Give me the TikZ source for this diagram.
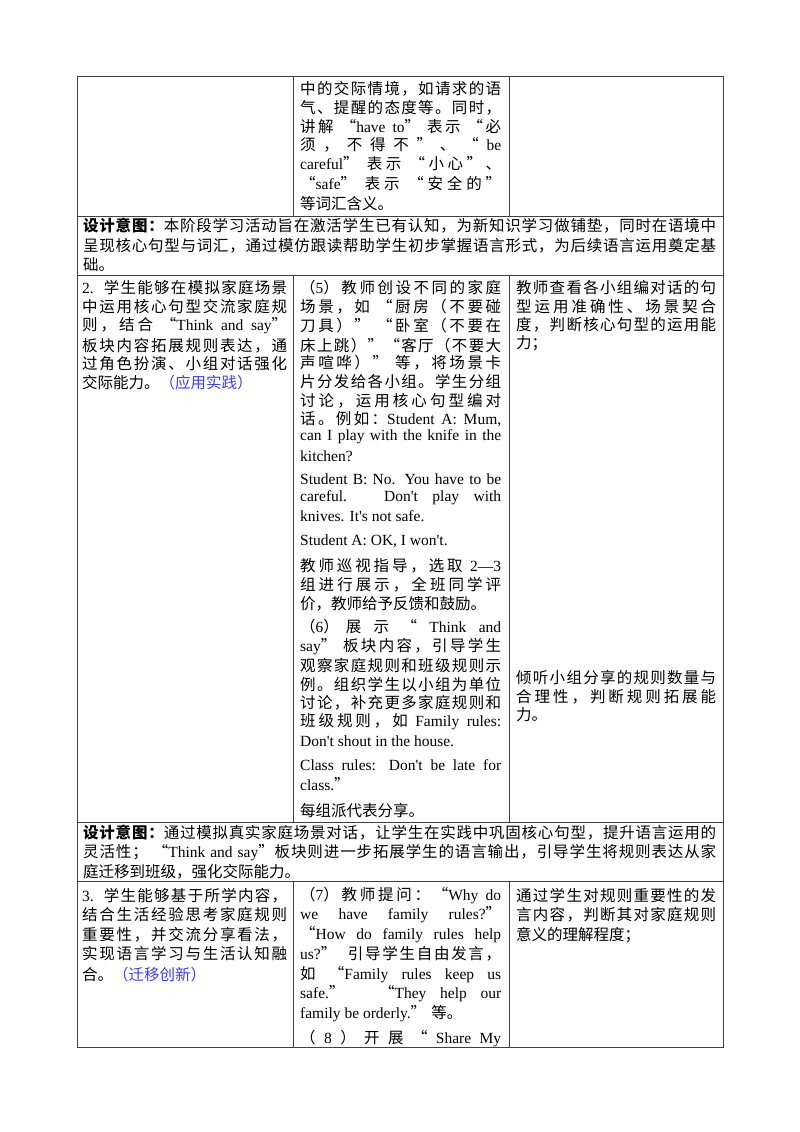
\documentclass[tikz,border=0pt]{standalone}
\usepackage{fontspec}
\setmainfont{Liberation Serif}[Ligatures=TeXOff]
\newfontfamily\latf{Liberation Serif}[Ligatures=TeXOff]
\newfontfamily\cjkf{Noto Sans CJK SC}
\XeTeXinterchartokenstate=1
\newXeTeXintercharclass\cjkclass
\newcount\cc
\cc="4E00 \loop \XeTeXcharclass\cc=\cjkclass \advance\cc 1 \ifnum\cc<"A000 \repeat
\XeTeXcharclass"FF08=\cjkclass \XeTeXcharclass"FF09=\cjkclass
\XeTeXcharclass"FF0C=\cjkclass \XeTeXcharclass"FF1A=\cjkclass
\XeTeXcharclass"FF1B=\cjkclass \XeTeXcharclass"3001=\cjkclass
\XeTeXcharclass"3002=\cjkclass \XeTeXcharclass"201C=\cjkclass
\XeTeXcharclass"201D=\cjkclass
\XeTeXinterchartoks 0 \cjkclass={\cjkf}
\XeTeXinterchartoks 4095 \cjkclass={\cjkf}
\XeTeXinterchartoks \cjkclass 0={\latf}
\XeTeXinterchartoks \cjkclass 4095={\latf}
\XeTeXinterchartoks \cjkclass \cjkclass={\hskip0pt plus 0.1em\relax}
\definecolor{lblue}{rgb}{0.25,0.25,0.9}
\definecolor{rule}{rgb}{0.25,0.25,0.25}
\newcommand\jline[4]{\node[txt] at (#1,#2) {\makebox[#3pt][s]{#4}};}
\newcommand\rline[3]{\node[txt] at (#1,#2) {#3};}
\tikzset{txt/.style={anchor=west,inner sep=0pt,font=\fontsize{15.5pt}{17pt}\selectfont},
  grid/.style={draw=rule,line width=1pt}}
\begin{document}
\begin{tikzpicture}[x=1pt,y=-1pt]
\path[use as bounding box,fill=white] (0,0) rectangle (800,1132);
% grid
\draw[grid] (77,76) rectangle (723,1047);
\foreach \y in {216,275,822,881} \draw[grid] (77,\y) -- (723,\y);
\foreach \x in {293,509} {\draw[grid] (\x,76) -- (\x,216); \draw[grid] (\x,275) -- (\x,822); \draw[grid] (\x,881) -- (\x,1047);}
% row 1
\jline{300}{89}{201}{中的交际情境，如请求的语}
\jline{300}{108}{201}{气、提醒的态度等。同时，}
\jline{300}{127}{201}{讲解 “have to” 表示 “必}
\jline{300}{145}{201}{须 ， 不 得 不 ” 、 “ be}
\jline{300}{164}{201}{careful” 表示 “小心”、}
\jline{300}{184}{201}{“safe” 表示 “安全的”}
\rline{300}{204}{等词汇含义。}
% design 1
\jline{83}{226}{633}{\bfseries 设计意图：\mdseries 本阶段学习活动旨在激活学生已有认知，为新知识学习做铺垫，同时在语境中}
\jline{83}{246}{633}{呈现核心句型与词汇，通过模仿跟读帮助学生初步掌握语言形式，为后续语言运用奠定基}
\rline{83}{265}{础。}
% row 2 col1
\jline{82}{288}{205}{2. 学生能够在模拟家庭场景}
\jline{82}{307}{205}{中运用核心句型交流家庭规}
\jline{82}{326}{205}{则，结合 “Think and say”}
\jline{82}{346}{205}{板块内容拓展规则表达，通}
\jline{82}{364}{205}{过角色扮演、小组对话强化}
\rline{82}{383}{交际能力。\textcolor{lblue}{（应用实践）}}
% row 2 col2
\jline{300}{288}{201}{（5）教师创设不同的家庭}
\jline{300}{307}{201}{场景，如 “厨房（不要碰}
\jline{300}{326}{201}{刀具）” “卧室（不要在}
\jline{300}{346}{201}{床上跳）”“客厅（不要大}
\jline{300}{363}{201}{声喧哗）” 等，将场景卡}
\jline{300}{382}{201}{片分发给各小组。学生分组}
\jline{300}{401}{201}{讨论，运用核心句型编对}
\jline{300}{419}{201}{话。例如：Student A: Mum,}
\jline{300}{437}{201}{can I play with the knife in the}
\rline{300}{456}{kitchen?}
\jline{300}{479}{201}{Student B: No. You have to be}
\jline{300}{498}{201}{careful. Don't play with}
\rline{300}{516}{knives. It's not safe.}
\rline{300}{541}{Student A: OK, I won't.}
\jline{300}{566}{201}{教师巡视指导，选取 2—3}
\jline{300}{585}{201}{组进行展示，全班同学评}
\rline{300}{604}{价，教师给予反馈和鼓励。}
\jline{300}{627}{201}{（6）展 示 “ Think and}
\jline{300}{647}{201}{say” 板块内容，引导学生}
\jline{300}{666}{201}{观察家庭规则和班级规则示}
\jline{300}{685}{201}{例。组织学生以小组为单位}
\jline{300}{703}{201}{讨论，补充更多家庭规则和}
\jline{300}{722}{201}{班级规则，如 Family rules:}
\rline{300}{741}{Don't shout in the house.}
\jline{300}{765}{201}{Class rules: Don't be late for}
\rline{300}{784}{class.”}
\rline{300}{811}{每组派代表分享。}
% row 2 col3
\jline{516}{288}{200}{教师查看各小组编对话的句}
\jline{516}{307}{200}{型运用准确性、场景契合}
\jline{516}{325}{200}{度，判断核心句型的运用能}
\rline{516}{343}{力；}
\jline{516}{678}{200}{倾听小组分享的规则数量与}
\jline{516}{697}{200}{合理性，判断规则拓展能}
\rline{516}{715}{力。}
% design 2
\jline{83}{833}{633}{\bfseries 设计意图：\mdseries 通过模拟真实家庭场景对话，让学生在实践中巩固核心句型，提升语言运用的}
\jline{83}{853}{633}{灵活性； “Think and say”板块则进一步拓展学生的语言输出，引导学生将规则表达从家}
\rline{83}{872}{庭迁移到班级，强化交际能力。}
% row 3
\jline{82}{896}{205}{3. 学生能够基于所学内容，}
\jline{82}{915}{205}{结合生活经验思考家庭规则}
\jline{82}{935}{205}{重要性，并交流分享看法，}
\jline{82}{954}{205}{实现语言学习与生活认知融}
\rline{82}{975}{合。\textcolor{lblue}{（迁移创新）}}
\jline{300}{896}{201}{（7）教师提问：“Why do}
\jline{300}{915}{201}{we have family rules?”}
\jline{300}{935}{201}{“How do family rules help}
\jline{300}{954}{201}{us?” 引导学生自由发言，}
\jline{300}{975}{201}{如 “Family rules keep us}
\jline{300}{994}{201}{safe.” “They help our}
\rline{300}{1014}{family be orderly.” 等。}
\jline{300}{1039}{201}{（ 8 ） 开 展 “ Share My}
\jline{516}{896}{200}{通过学生对规则重要性的发}
\jline{516}{915}{200}{言内容，判断其对家庭规则}
\rline{516}{935}{意义的理解程度；}
\end{tikzpicture}
\end{document}
